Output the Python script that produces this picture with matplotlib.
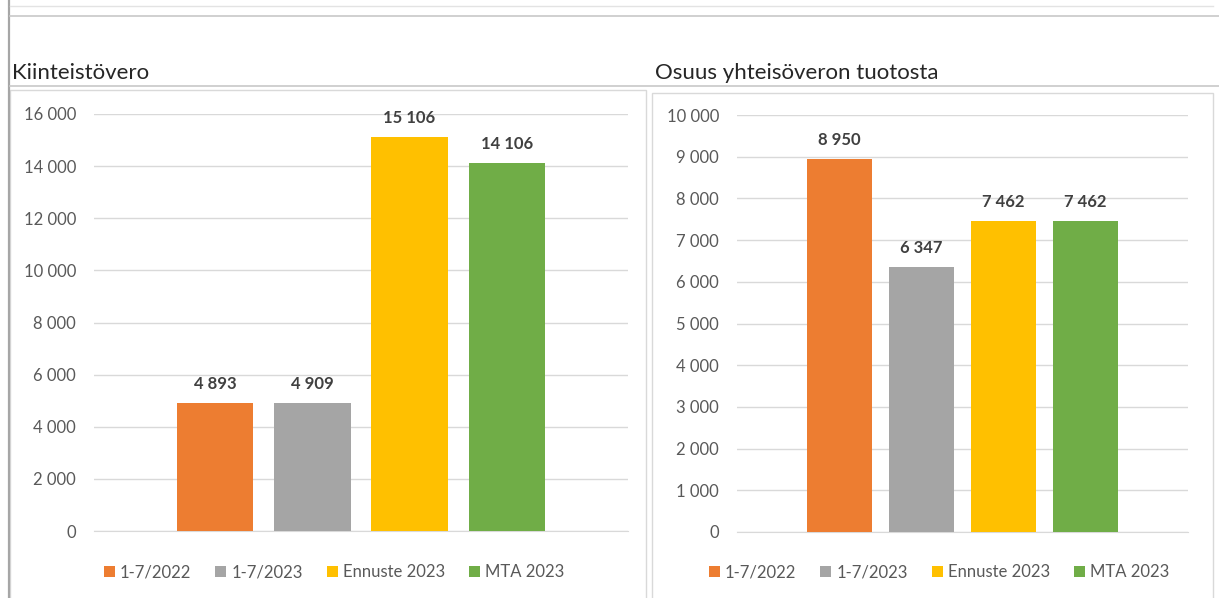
import matplotlib.pyplot as plt
from matplotlib.lines import Line2D
from matplotlib.patches import Rectangle, Patch

plt.rcParams['font.family'] = ['Lato', 'DejaVu Sans']

# data
sarjat = ["1-7/2022", "1-7/2023", "Ennuste 2023", "MTA 2023"]
kiinteistovero = [4893, 4909, 15106, 14106]
yhteisovero = [8950, 6347, 7462, 7462]
varit = ["#ED7D31", "#A5A5A5", "#FFC000", "#70AD47"]
otsikot = ["Kiinteistövero", "Osuus yhteisöveron tuotosta"]

W, H = 1219, 598
fig = plt.figure(figsize=(W / 100, H / 100), dpi=100)


def fx(x):
    return x / W


def fy(y):
    return 1 - y / H


def viiva(x0, y0, x1, y1, color="#D9D9D9", lw=1.0):
    fig.add_artist(Line2D([fx(x0), fx(x1)], [fy(y0), fy(y1)], color=color, lw=lw,
                          transform=fig.transFigure))


def muoto(v):
    return f"{int(v):,}".replace(",", " ")


# kehykset
viiva(9, 0, 9, H, color="#A6A6A6", lw=1.6)
viiva(10, 6, 1213, 6, color="#E3E3E3")
viiva(10, 16, W, 16, color="#C8C8C8", lw=1.2)
viiva(10, 86, W, 86, color="#C8C8C8", lw=1.2)
for (x0, y0, x1) in [(10, 90, 646), (652, 93, 1213)]:
    fig.add_artist(Rectangle((fx(x0), fy(H + 5)), fx(x1 - x0), fy(y0) - fy(H + 5),
                             fill=False, edgecolor="#D9D9D9", lw=1.0,
                             transform=fig.transFigure))

fig.text(fx(12), fy(73), otsikot[0], fontsize=16, color="#262626", va="center")
fig.text(fx(655), fy(73), otsikot[1], fontsize=16, color="#262626", va="center")

asetukset = [
    (kiinteistovero, [94, 114, 628, 531], 16000, 2000, 334),
    (yhteisovero, [737, 115, 1188, 532], 10000, 1000, 939),
]

for arvot, (x0, y0, x1, y1), ymax, askel, leg_x in asetukset:
    ax = fig.add_axes([fx(x0), fy(y1), fx(x1 - x0), fy(y0) - fy(y1)])
    paikat = range(len(arvot))
    palkit = ax.bar(paikat, arvot, width=0.785, color=varit, zorder=3)
    for p, v in zip(palkit, arvot):
        ax.annotate(muoto(v), (p.get_x() + p.get_width() / 2, v), xytext=(0, 8),
                    textcoords="offset points", ha="center", va="bottom",
                    fontsize=12, fontweight="bold", color="#404040")
    ax.set_xlim(-1.25, 4.25)
    ax.set_ylim(0, ymax)
    ax.set_yticks(range(0, ymax + 1, askel))
    ax.set_yticklabels([muoto(t) for t in range(0, ymax + 1, askel)])
    ax.tick_params(axis="y", length=0, pad=13, labelsize=12, labelcolor="#595959")
    ax.set_xticks([])
    ax.grid(axis="y", color="#D9D9D9", lw=1.0, zorder=0)
    for s in ["left", "right", "top"]:
        ax.spines[s].set_visible(False)
    ax.spines["bottom"].set_color("#D9D9D9")
    ax.patch.set_alpha(0)

    kahvat = [Patch(facecolor=c, label=l) for c, l in zip(varit, sarjat)]
    fig.legend(handles=kahvat, loc="center", bbox_to_anchor=(fx(leg_x), fy(572)),
               ncol=4, frameon=False, fontsize=12, labelcolor="#595959",
               handlelength=0.65, handleheight=0.65, handletextpad=0.3,
               columnspacing=1.45)

fig.savefig("out.png", dpi=100)
